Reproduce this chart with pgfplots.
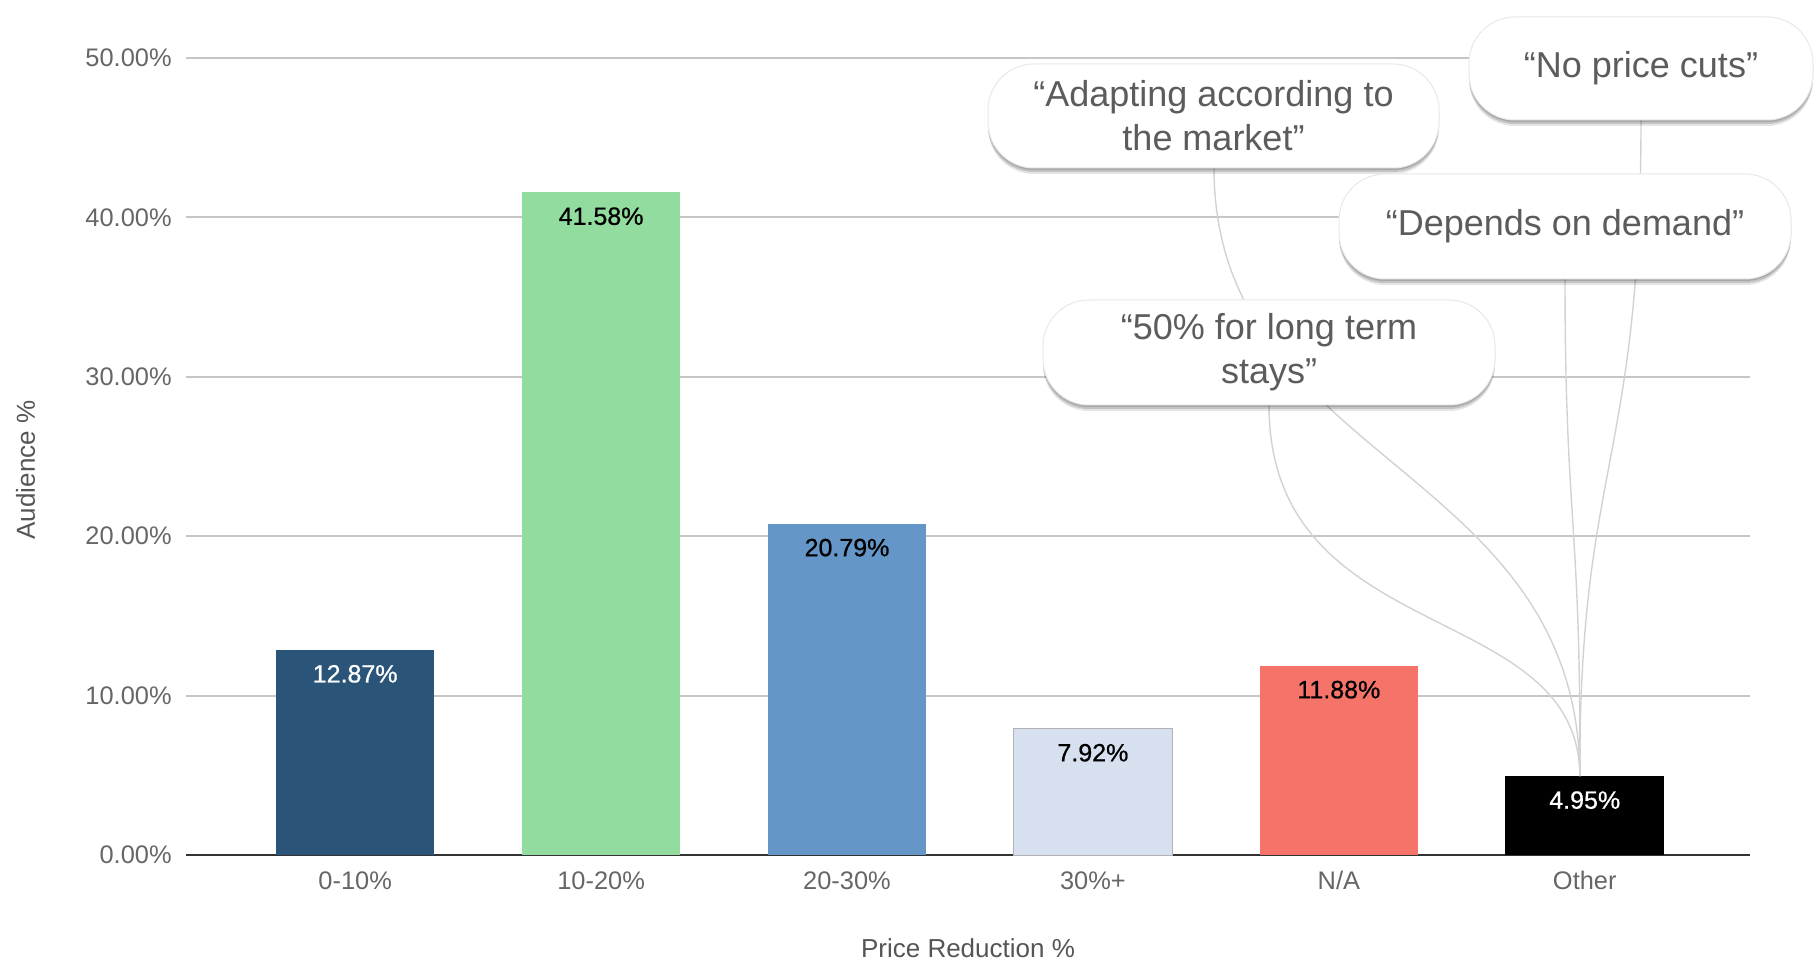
\documentclass[border=0pt]{standalone}
\usepackage{pgfplots}
\pgfplotsset{compat=1.18}
\usepackage{fontspec}
\setmainfont{Liberation Sans}
\newfontfamily\medfont[FakeBold=0.7]{Liberation Sans}
\usetikzlibrary{shadows}
\definecolor{c1}{HTML}{2A5578}
\definecolor{c2}{HTML}{93DC9F}
\definecolor{c3}{HTML}{6497C7}
\definecolor{c4}{HTML}{D6E0EE}
\definecolor{c5}{HTML}{F6736A}
\definecolor{c6}{HTML}{000000}
\definecolor{gridc}{HTML}{C6C6C6}
\definecolor{tickc}{HTML}{666666}
\definecolor{titlec}{HTML}{555555}
\definecolor{calloutc}{HTML}{5C5C5C}
\definecolor{linkc}{HTML}{D2D2D2}
\begin{document}
\begin{tikzpicture}
\useasboundingbox (0,0) rectangle (910pt,-481pt);
\begin{axis}[
  at={(93pt,-427.5pt)}, anchor=south west,
  scale only axis, width=782pt, height=398.5pt,
  xmin=-0.688, xmax=5.672, ymin=0, ymax=50,
  xtick={0,...,5},
  xticklabels={0-10\%,10-20\%,20-30\%,30\%+,N/A,Other},
  ytick={0,10,...,50},
  yticklabel={\pgfmathprintnumber[fixed,fixed zerofill,precision=2]{\tick}\%},
  /pgf/number format/assume math mode=true,
  major tick length=0pt,
  axis x line*=bottom, axis y line*=left,
  x axis line style={draw=black!80, line width=1pt},
  y axis line style={draw=none},
  ymajorgrids, grid style={gridc, line width=1pt},
  tick label style={font=\fontsize{12.7}{15}\selectfont, text=tickc},
  yticklabel style={inner sep=0pt, xshift=-7pt},
  xticklabel style={inner sep=0pt, yshift=-8pt},
  nodes near coords={\pgfmathprintnumber[fixed,fixed zerofill,precision=2]{\pgfplotspointmeta}\%},
  every node near coord/.style={anchor=center, yshift=-12pt, font=\medfont\fontsize{12.5}{15}\selectfont, text=black},
]
\addplot[ybar, bar width=0.645, bar shift=0pt, fill=c1, draw=none, every node near coord/.append style={text=white}] coordinates {(0,12.87)};
\addplot[ybar, bar width=0.645, bar shift=0pt, fill=c2, draw=none] coordinates {(1,41.58)};
\addplot[ybar, bar width=0.645, bar shift=0pt, fill=c3, draw=none] coordinates {(2,20.79)};
\addplot[ybar, bar width=0.645, bar shift=0pt, fill=c4, draw=black!30, line width=0.5pt] coordinates {(3,7.92)};
\addplot[ybar, bar width=0.645, bar shift=0pt, fill=c5, draw=none] coordinates {(4,11.88)};
\addplot[ybar, bar width=0.645, bar shift=0pt, fill=c6, draw=none, every node near coord/.append style={text=white}] coordinates {(5,4.95)};
\coordinate (tip) at (axis cs:4.98,4.95);
\end{axis}
\begin{scope}[x=0.5pt,y=-0.5pt]
\node[rotate=90, text=titlec, font=\fontsize{13}{15}\selectfont] at (25.5,470) {Audience \%};
\node[text=titlec, font=\fontsize{13}{15}\selectfont] at (968,948) {Price Reduction \%};
% connectors
\draw[linkc, line width=0.7pt] (1214,168) .. controls (1214,464) and (1579,464) .. (tip);
\draw[linkc, line width=0.7pt] (1269,405) .. controls (1269,650) and (1579,597) .. (tip);
\draw[linkc, line width=0.7pt] (1641,120) .. controls (1641,464) and (1579,464) .. (tip);
\draw[linkc, line width=0.7pt] (1565,279) .. controls (1565,522) and (1581,522) .. (tip);
% callouts
\tikzset{callout/.style={fill=white, draw=black!9, line width=0.5pt, rounded corners=23pt, inner sep=0pt, align=center,
  text=calloutc, font=\fontsize{18}{22}\selectfont,
  drop shadow={shadow xshift=0pt, shadow yshift=-3pt, opacity=0.10, fill=black},
  drop shadow={shadow xshift=0pt, shadow yshift=-2pt, opacity=0.15, fill=black},
  drop shadow={shadow xshift=0pt, shadow yshift=-1pt, opacity=0.15, fill=black}}}
\node[callout, minimum width=225.5pt, minimum height=52pt] at (1213.5,116) {“Adapting according to\\the market”};
\node[callout, minimum width=172pt, minimum height=51.5pt] at (1641,68.5) {“No price cuts”};
\node[callout, minimum width=226pt, minimum height=52.5pt] at (1565,226.5) {“Depends on demand”};
\node[callout, minimum width=226pt, minimum height=52.5pt] at (1269,352.5) {“50\% for long term\\stays”};
\end{scope}
\end{tikzpicture}
\end{document}
